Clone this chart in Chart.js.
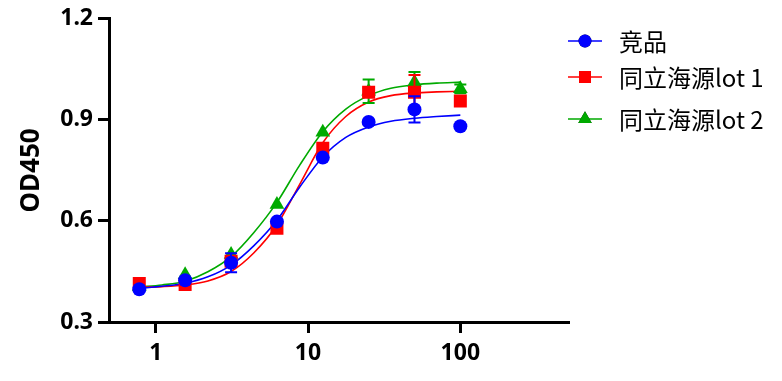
<!DOCTYPE html>
<html><head><meta charset="utf-8">
<script src="https://cdn.jsdelivr.net/npm/chart.js@4"></script>
<style>html,body{margin:0;padding:0;background:#fff}#wrap{width:782px;height:381px;position:relative}</style>
</head><body><div id="wrap"><canvas id="c" width="782" height="381"></canvas></div>
<script>
const seriesNames = ['竞品', '同立海源lot 1', '同立海源lot 2'];
const concentrations = [0.78, 1.56, 3.125, 6.25, 12.5, 25, 50, 100];
const competitorOD = [0.397, 0.424, 0.476, 0.598, 0.788, 0.894, 0.931, 0.881];
const lot1OD = [0.414, 0.411, 0.480, 0.578, 0.816, 0.982, 0.982, 0.956];
const lot2OD = [0.405, 0.440, 0.500, 0.649, 0.863, 0.985, 1.012, 0.992];
const competitorErr = [0, 0, 0.028, 0, 0, 0, 0.039, 0];
const lot1Err = [0, 0, 0, 0, 0, 0.012, 0.051, 0];
const lot2Err = [0, 0, 0, 0, 0, 0.035, 0.030, 0.013];
const fitX = [0.78, 1.1, 1.56, 2.2, 3.125, 4.4, 6.25, 8.8, 12.5, 17.7, 25, 35, 50, 70, 100];
const competitorFit = [0.400, 0.406, 0.415, 0.434, 0.469, 0.526, 0.602, 0.700, 0.790, 0.848, 0.879, 0.896, 0.905, 0.910, 0.914];
const lot1Fit = [0.403, 0.405, 0.410, 0.422, 0.450, 0.505, 0.588, 0.708, 0.832, 0.910, 0.953, 0.972, 0.980, 0.983, 0.985];
const lot2Fit = [0.404, 0.410, 0.421, 0.449, 0.494, 0.565, 0.655, 0.765, 0.865, 0.932, 0.972, 0.994, 1.004, 1.009, 1.012];
const xTicks = [1, 10, 100];
const yTicks = [0.3, 0.6, 0.9, 1.2];

const colors = ['#0000FF', '#FF0000', '#00AA00'];
const styles = ['circle', 'rect', 'triangle'];
const radii = [7, 9.2, 8.5];
const odSets = [competitorOD, lot1OD, lot2OD];
const errSets = [competitorErr, lot1Err, lot2Err];
const fitSets = [competitorFit, lot1Fit, lot2Fit];
const numFont = 'Noto Sans, DejaVu Sans, sans-serif';

const datasets = [];
odSets.forEach((vals, s) => {
  datasets.push({
    label: seriesNames[s],
    data: concentrations.map((x, i) => ({ x, y: vals[i] })),
    showLine: false,
    pointStyle: styles[s],
    pointRadius: radii[s],
    pointHoverRadius: radii[s],
    pointBackgroundColor: colors[s],
    pointBorderColor: colors[s],
    pointBorderWidth: 0,
    borderColor: colors[s],
    backgroundColor: colors[s],
    order: s,
    errors: errSets[s]
  });
});
fitSets.forEach((vals, s) => {
  datasets.push({
    label: seriesNames[s] + ' fit',
    data: fitX.map((x, i) => ({ x, y: vals[i] })),
    showLine: true,
    pointRadius: 0,
    borderColor: colors[s],
    borderWidth: 1.6,
    cubicInterpolationMode: 'monotone',
    fill: false,
    order: 3 + s
  });
});

const errorBarPlugin = {
  id: 'errorBars',
  beforeDatasetDraw(chart, args) {
    const ds = chart.data.datasets[args.index];
    if (!ds.errors) return;
    const ctx = chart.ctx, xs = chart.scales.x, ys = chart.scales.y;
    ctx.save();
    ctx.strokeStyle = ds.borderColor;
    ctx.lineWidth = 2;
    ds.data.forEach((p, i) => {
      const e = ds.errors[i];
      if (!e) return;
      const px = xs.getPixelForValue(p.x);
      const yT = ys.getPixelForValue(p.y + e);
      const yB = ys.getPixelForValue(p.y - e);
      ctx.beginPath();
      ctx.moveTo(px, yT); ctx.lineTo(px, yB);
      ctx.moveTo(px - 6, yT); ctx.lineTo(px + 6, yT);
      ctx.moveTo(px - 6, yB); ctx.lineTo(px + 6, yB);
      ctx.stroke();
    });
    ctx.restore();
  }
};

const legendPlugin = {
  id: 'customLegend',
  afterDraw(chart) {
    const ctx = chart.ctx;
    const rowsY = [41, 77, 119];
    ctx.save();
    seriesNames.forEach((name, s) => {
      const y = rowsY[s];
      ctx.strokeStyle = colors[s];
      ctx.lineWidth = 1.6;
      ctx.beginPath(); ctx.moveTo(568, y); ctx.lineTo(602, y); ctx.stroke();
      Chart.helpers.drawPoint(ctx, { pointStyle: styles[s], radius: radii[s] * 0.92, rotation: 0, borderWidth: 0 }, 585, y);
      ctx.fillStyle = colors[s];
      ctx.fill();
      ctx.fillStyle = '#000';
      ctx.font = '24px "Noto Sans CJK SC", sans-serif';
      ctx.textBaseline = 'middle';
      ctx.textAlign = 'left';
      ctx.fillText(name, 619, y + 1);
    });
    ctx.restore();
  }
};

new Chart(document.getElementById('c'), {
  type: 'line',
  data: { datasets },
  plugins: [errorBarPlugin, legendPlugin],
  options: {
    responsive: false,
    animation: false,
    devicePixelRatio: 1,
    layout: { padding: { top: 17, right: 213, left: 0, bottom: 0 } },
    plugins: { legend: { display: false }, tooltip: { enabled: false } },
    scales: {
      x: {
        type: 'logarithmic',
        min: 0.4935,
        max: 517,
        afterBuildTicks: s => { s.ticks = xTicks.map(v => ({ value: v })); },
        afterFit: s => { s.height = 59; },
        ticks: {
          autoSkip: false, maxRotation: 0,
          callback: v => String(v),
          color: '#000',
          padding: 7,
          font: { family: numFont, size: 23, weight: 'bold' }
        },
        grid: { display: true, drawOnChartArea: false, tickLength: 11, tickWidth: 3, tickColor: '#000' },
        border: { display: true, width: 3, color: '#000' }
      },
      y: {
        type: 'linear',
        min: 0.3,
        max: 1.2,
        afterBuildTicks: s => { s.ticks = yTicks.map(v => ({ value: v })); },
        afterFit: s => { s.width = 109; },
        ticks: {
          autoSkip: false,
          callback: v => Number(v).toFixed(1),
          color: '#000',
          padding: 5,
          font: { family: numFont, size: 23, weight: 'bold' }
        },
        grid: { display: true, drawOnChartArea: false, tickLength: 11, tickWidth: 3, tickColor: '#000' },
        border: { display: true, width: 3, color: '#000' },
        title: {
          display: true, text: 'OD450', color: '#000',
          font: { family: numFont, size: 26, weight: 'bold' },
          padding: { top: 16, bottom: 0 }
        }
      }
    }
  }
});
</script>
</body></html>
